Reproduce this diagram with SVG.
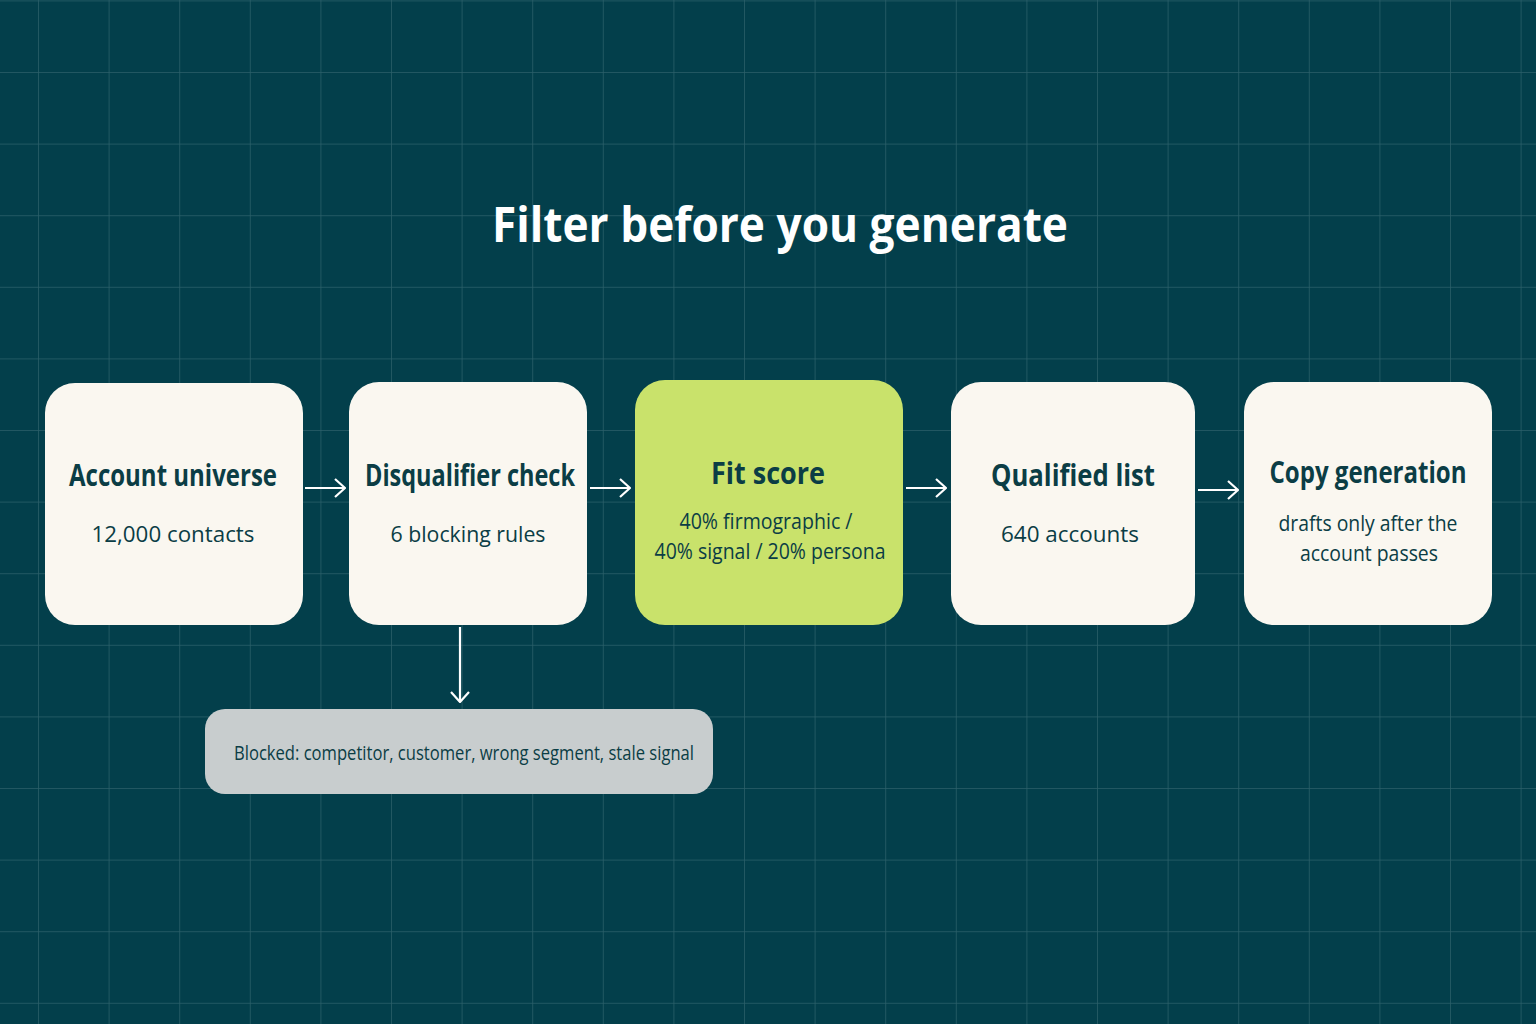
<svg xmlns="http://www.w3.org/2000/svg" width="1536" height="1024" viewBox="0 0 1536 1024">
<defs>
<pattern id="grid" x="38" y="0.4" width="70.6" height="71.6" patternUnits="userSpaceOnUse">
<path d="M0 0V71.6M0 0H70.6" fill="none" stroke="#2b606a" stroke-width="1.5"/>
</pattern>
<marker id="ah" viewBox="0 0 12 20" refX="11" refY="10" markerWidth="12" markerHeight="20" markerUnits="userSpaceOnUse" orient="auto">
<path d="M1 1L11 10L1 19" fill="none" stroke="#fff" stroke-width="2.2"/>
</marker>
<style>
.card{fill:#faf7f0}
.t{font-family:"Open Sans","Liberation Sans",sans-serif;font-weight:700;font-size:30px;fill:#0b3d45;text-anchor:middle}
.s{font-family:"Open Sans","Liberation Sans",sans-serif;font-size:21px;fill:#0b3d45;text-anchor:middle}
.c{stroke:#fff;stroke-width:2.2;fill:none;marker-end:url(#ah)}
</style>
</defs>
<rect width="1536" height="1024" fill="#033f4b"/>
<rect width="1536" height="1024" fill="url(#grid)"/>
<text x="780" y="242" font-family="Open Sans, Liberation Sans, sans-serif" font-weight="700" font-size="48" fill="#fff" text-anchor="middle" textLength="576" lengthAdjust="spacingAndGlyphs">Filter before you generate</text>
<g id="connectors">
<line class="c" x1="305" y1="488" x2="345" y2="488"/>
<line class="c" x1="590" y1="488" x2="630" y2="488"/>
<line class="c" x1="906" y1="488" x2="946" y2="488"/>
<line class="c" x1="1198" y1="490" x2="1238" y2="490"/>
<line class="c" x1="460" y1="627" x2="460" y2="702"/>
</g>
<g id="n1"><rect class="card" x="45" y="383" width="258" height="242" rx="30"/>
<text class="t" x="173" y="486" textLength="208" lengthAdjust="spacingAndGlyphs">Account universe</text><text class="s" x="173" y="542" textLength="163" lengthAdjust="spacingAndGlyphs">12,000 contacts</text></g>
<g id="n2"><rect class="card" x="349" y="382" width="238" height="243" rx="30"/>
<text class="t" x="470" y="486" textLength="210" lengthAdjust="spacingAndGlyphs">Disqualifier check</text><text class="s" x="468" y="542" textLength="155" lengthAdjust="spacingAndGlyphs">6 blocking rules</text></g>
<g id="n3"><rect x="635" y="380" width="268" height="245" rx="30" fill="#c9e26b"/>
<text class="t" x="768" y="484" textLength="114" lengthAdjust="spacingAndGlyphs">Fit score</text><text class="s" x="766" y="529" textLength="173" lengthAdjust="spacingAndGlyphs">40% firmographic /</text><text class="s" x="770" y="559" textLength="231" lengthAdjust="spacingAndGlyphs">40% signal / 20% persona</text></g>
<g id="n4"><rect class="card" x="951" y="382" width="244" height="243" rx="30"/>
<text class="t" x="1073" y="486" textLength="164" lengthAdjust="spacingAndGlyphs">Qualified list</text><text class="s" x="1070" y="542" textLength="138" lengthAdjust="spacingAndGlyphs">640 accounts</text></g>
<g id="n5"><rect class="card" x="1244" y="382" width="248" height="243" rx="30"/>
<text class="t" x="1368" y="483" textLength="197" lengthAdjust="spacingAndGlyphs">Copy generation</text><text class="s" x="1368" y="531" textLength="179" lengthAdjust="spacingAndGlyphs">drafts only after the</text><text class="s" x="1369" y="561" textLength="138" lengthAdjust="spacingAndGlyphs">account passes</text></g>
<g id="n6"><rect x="205" y="709" width="508" height="85" rx="20" fill="#c8cdce"/>
<text x="464" y="760" font-family="Open Sans, Liberation Sans, sans-serif" font-size="20" fill="#0b3d45" text-anchor="middle" textLength="460" lengthAdjust="spacingAndGlyphs">Blocked: competitor, customer, wrong segment, stale signal</text></g>
</svg>
